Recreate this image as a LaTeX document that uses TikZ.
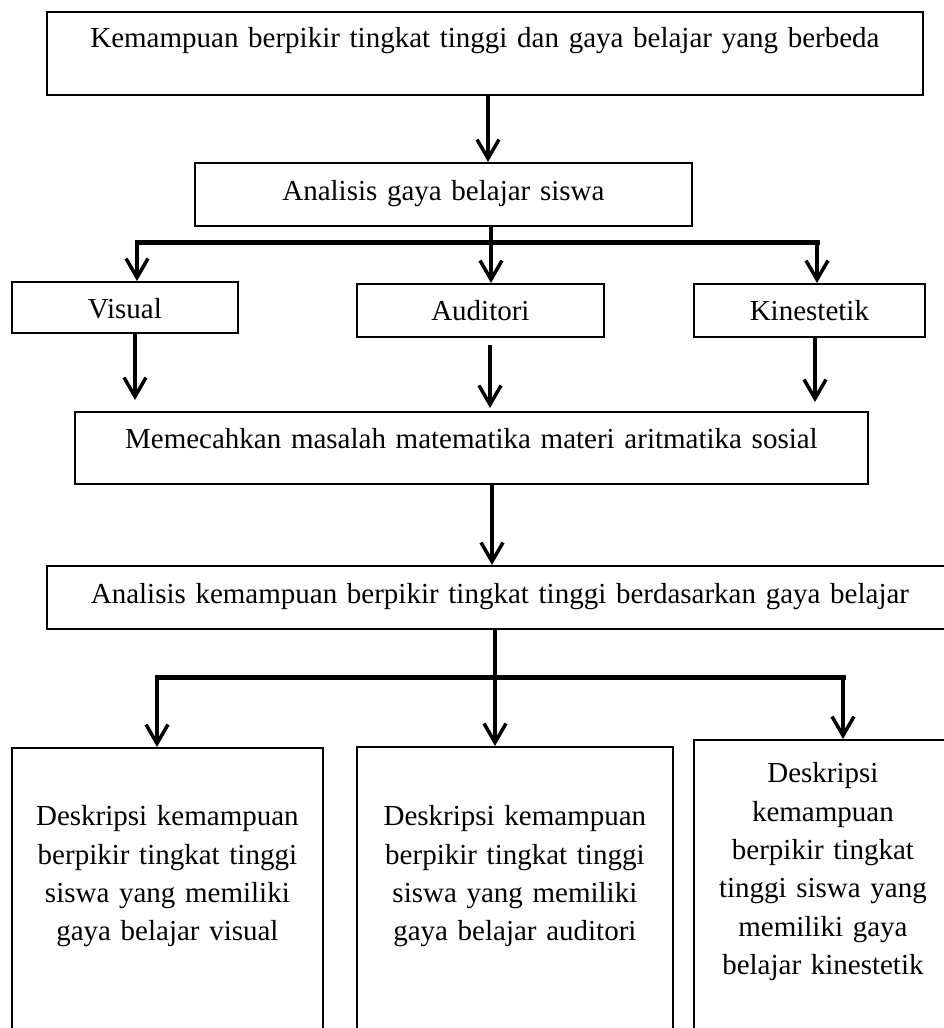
\documentclass[tikz,border=0pt]{standalone}
\usepackage{fontspec}
\setmainfont{Liberation Serif}
\usetikzlibrary{arrows.meta}
\tikzset{
  box/.style={draw, line width=1.8pt, inner sep=0pt, anchor=north west, align=center,
    font=\fontsize{29}{38.3}\selectfont},
  arr/.style={line width=3.5pt, -{Straight Barb[length=19pt,width=22pt]}},
  bus/.style={line width=5pt, line cap=rect},
}
\begin{document}
\begin{tikzpicture}[x=1pt,y=-1pt]
\clip (0,0) rectangle (944,1028);
% boxes
\node[box, text width=876pt, text height=36pt, text depth=47pt] (top) at (46,11)
  {Kemampuan berpikir tingkat tinggi dan gaya belajar yang berbeda};
\node[box, text width=497pt, text height=38pt, text depth=25pt] (asis) at (194,162)
  {Analisis gaya belajar siswa};
\node[box, text width=226pt, text height=37pt, text depth=14pt] (vis) at (11,281) {Visual};
\node[box, text width=247pt, text height=37pt, text depth=16pt] (aud) at (356,283) {Auditori};
\node[box, text width=231pt, text height=37pt, text depth=16pt] (kin) at (693,283) {Kinestetik};
\node[box, text width=793pt, text height=37pt, text depth=35pt] (mem) at (74,411)
  {Memecahkan masalah matematika materi aritmatika sosial};
\node[box, text width=906pt, text height=38pt, text depth=25pt] (akb) at (46,565)
  {Analisis kemampuan berpikir tingkat tinggi berdasarkan gaya belajar};
\node[box, text width=311pt, text height=78pt, text depth=215pt] (d1) at (11,747)
  {Deskripsi kemampuan\\berpikir tingkat tinggi\\siswa yang memiliki\\gaya belajar visual};
\node[box, text width=316pt, text height=79pt, text depth=215pt] (d2) at (356,746)
  {Deskripsi kemampuan\\berpikir tingkat tinggi\\siswa yang memiliki\\gaya belajar auditori};
\node[box, text width=258pt, text height=43pt, text depth=258pt] (d3) at (693,739)
  {Deskripsi\\kemampuan\\berpikir tingkat\\tinggi siswa yang\\memiliki gaya\\belajar kinestetik};
% helper coordinates
\coordinate (xa) at (488,0);
\coordinate (b1L) at (137,242);
\coordinate (b1M) at (491,242);
\coordinate (b1R) at (817,242);
\coordinate (xv) at (135,0);
\coordinate (xu) at (490,0);
\coordinate (xk) at (815,0);
\coordinate (xm) at (492,0);
\coordinate (b2L) at (157,677);
\coordinate (b2M) at (495,677);
\coordinate (b2R) at (843,677);
% connectors
\draw[arr] (top.south -| xa) -- (asis.north -| xa);
\draw[bus] (b1L) -- (b1R);
\draw[arr] (asis.south -| b1M) -- (aud.north -| b1M);
\draw[arr] (b1L) -- (vis.north -| b1L);
\draw[arr] (b1R) -- (kin.north -| b1R);
\draw[arr, shorten >=11pt] (vis.south -| xv) -- (mem.north -| xv);
\draw[arr, shorten <=7pt, shorten >=3pt] (aud.south -| xu) -- (mem.north -| xu);
\draw[arr, shorten >=9pt] (kin.south -| xk) -- (mem.north -| xk);
\draw[arr] (mem.south -| xm) -- (akb.north -| xm);
\draw[bus] (b2L) -- (b2R);
\draw[arr] (akb.south -| b2M) -- (d2.north -| b2M);
\draw[arr] (b2L) -- (d1.north -| b2L);
\draw[arr] (b2R) -- (d3.north -| b2R);
\end{tikzpicture}
\end{document}
